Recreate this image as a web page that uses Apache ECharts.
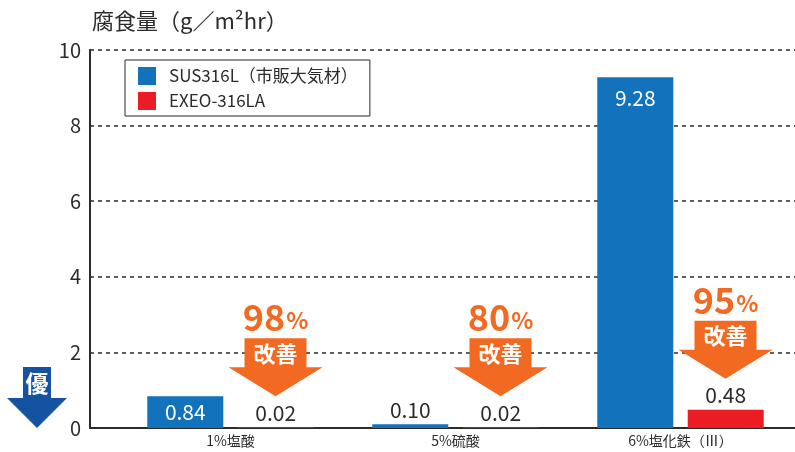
<!DOCTYPE html>
<html><head><meta charset="utf-8">
<script src="https://cdn.jsdelivr.net/npm/echarts@6/dist/echarts.min.js"></script>
<style>html,body{margin:0;padding:0;background:#fff}#c{width:795px;height:452px}</style>
</head><body><div id="c"></div>
<script>
const categories = ['1%塩酸', '5%硫酸', '6%塩化鉄（Ⅲ）'];
const sus316L = [0.84, 0.10, 9.28];
const exeo = [0.02, 0.02, 0.48];
const improvement = [98, 80, 95];
const yTicks = { min: 0, max: 10, interval: 2 };

const FONT = '"Noto Sans CJK JP", "Noto Sans", sans-serif';
const BLUE = '#1272bb', RED = '#ec1c24', ORANGE = '#f26a22', NAVY = '#1552a1', INK = '#2b2b2b';

const blueLabelPos = v => v > 5 ? { position: 'insideTop', distance: 10, color: '#fff' }
  : v > 0.5 ? { position: 'inside', color: '#fff' }
  : { position: 'top', distance: 4, color: INK };

const chart = echarts.init(document.getElementById('c'));
chart.setOption({
  animation: false,
  textStyle: { fontFamily: FONT },
  title: {
    text: '腐食量（g／m²hr）', left: 87, top: 5,
    textStyle: { fontSize: 22, fontWeight: 'normal', color: INK, fontFamily: FONT }
  },
  legend: {
    orient: 'vertical', left: 125, top: 60,
    padding: [7, 12, 6, 13], itemGap: 7,
    itemWidth: 18, itemHeight: 18, icon: 'rect',
    borderColor: INK, borderWidth: 1,
    textStyle: { fontSize: 17, color: INK, fontFamily: FONT, padding: [0, 0, 0, 8] },
    data: ['SUS316L（市販大気材）', 'EXEO-316LA']
  },
  grid: [
    { left: 90, right: 0, top: 50, bottom: 24 },
    { left: 118, right: 2, top: 50, bottom: 24 }
  ],
  xAxis: [
    { gridIndex: 0, type: 'category', data: categories,
      axisLine: { lineStyle: { color: INK, width: 2 } },
      axisTick: { show: false }, axisLabel: { show: false } },
    { gridIndex: 1, type: 'category', data: categories,
      axisLine: { show: false }, axisTick: { show: false },
      axisLabel: { fontSize: 14, color: INK, margin: 6, fontFamily: FONT } }
  ],
  yAxis: [
    { gridIndex: 0, type: 'value', ...yTicks,
      axisLine: { show: true, lineStyle: { color: INK, width: 2 } },
      axisTick: { show: false },
      axisLabel: { fontSize: 20, color: INK, margin: 9, fontFamily: FONT },
      splitLine: { lineStyle: { color: INK, type: [4, 4], width: 1.5 } } },
    { gridIndex: 1, type: 'value', ...yTicks, show: false, splitLine: { show: false } }
  ],
  graphic: [{
    type: 'group', children: [
      { type: 'polygon', shape: { points: [[23,367],[51,367],[51,398],[67,398],[37,428],[7,398],[23,398]] },
        style: { fill: NAVY } },
      { type: 'text', x: 37, y: 383, style: { text: '優', fill: '#fff', fontSize: 23, fontWeight: 'bold',
        align: 'center', verticalAlign: 'middle', fontFamily: FONT } }
    ]
  }],
  series: [
    { name: 'SUS316L（市販大気材）', type: 'bar', xAxisIndex: 1, yAxisIndex: 1,
      barWidth: 76, barGap: '19%', itemStyle: { color: BLUE },
      data: sus316L.map(v => ({ value: v, label: { show: true, fontSize: 21, fontFamily: FONT,
        formatter: p => p.value.toFixed(2), ...blueLabelPos(v) } })) },
    { name: 'EXEO-316LA', type: 'bar', xAxisIndex: 1, yAxisIndex: 1,
      barWidth: 76, barGap: '19%', itemStyle: { color: RED },
      label: { show: true, position: 'top', distance: 4, fontSize: 21, color: INK, fontFamily: FONT,
        formatter: p => p.value.toFixed(2) },
      data: exeo },
    { type: 'custom', xAxisIndex: 1, yAxisIndex: 1, z: 5, silent: true,
      data: exeo.map((v, i) => [i, v, improvement[i]]),
      renderItem: (params, api) => {
        const p = api.coord([api.value(0), api.value(1)]);
        const x = p[0] + 45, tip = p[1] - 31;
        const rw = 31, tw = 47, rh = 29, th = 29;
        const top = tip - rh - th;
        return { type: 'group', children: [
          { type: 'polygon', shape: { points: [
            [x - rw, top], [x + rw, top], [x + rw, tip - th], [x + tw, tip - th],
            [x, tip], [x - tw, tip - th], [x - rw, tip - th]] }, style: { fill: ORANGE } },
          { type: 'text', x: x, y: top + 15, style: { text: '改善', fill: '#fff', fontSize: 22,
            fontWeight: 'bold', align: 'center', verticalAlign: 'middle', fontFamily: FONT } },
          { type: 'text', x: x, y: top - 3, style: {
            text: '{n|' + api.value(2) + '}{p|%}', align: 'center', verticalAlign: 'bottom',
            rich: {
              n: { fontSize: 36, fontWeight: 'bold', fill: ORANGE, color: ORANGE, fontFamily: FONT, verticalAlign: 'bottom' },
              p: { fontSize: 23, fontWeight: 'bold', fill: ORANGE, color: ORANGE, fontFamily: FONT, verticalAlign: 'bottom', padding: [0, 0, 3, 1] }
            } } }
        ] };
      } }
  ]
});
</script></body></html>
